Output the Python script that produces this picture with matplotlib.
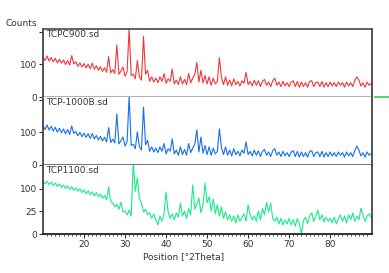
import numpy as np
import matplotlib
matplotlib.use("Agg")
import matplotlib.pyplot as plt
from matplotlib.lines import Line2D

# 2Theta grid, 0.5 deg steps from 10 to 90
two_theta = np.arange(10.0, 90.01, 0.5)

tcpc900 = [
    124, 112, 126, 110, 121, 108, 119, 105, 116, 104,
    114, 100, 112, 98, 127, 102, 108, 94, 105, 92,
    103, 89, 101, 87, 104, 85, 96, 82, 93, 79,
    90, 76, 124, 74, 84, 72, 160, 70, 80, 92,
    64, 78, 210, 66, 70, 56, 112, 62, 52, 186,
    70, 82, 48, 62, 46, 58, 44, 62, 48, 72,
    42, 56, 48, 86, 40, 52, 38, 62, 40, 54,
    38, 72, 44, 58, 70, 106, 46, 82, 44, 66,
    40, 62, 36, 58, 40, 48, 121, 60, 38, 62,
    36, 52, 34, 56, 38, 48, 34, 50, 42, 76,
    38, 48, 34, 52, 36, 50, 32, 48, 54, 36,
    46, 32, 50, 58, 36, 46, 32, 48, 34, 44,
    32, 46, 50, 32, 48, 30, 46, 32, 44, 30,
    48, 50, 32, 44, 46, 32, 48, 30, 44, 32,
    46, 34, 44, 32, 46, 36, 44, 30, 46, 34,
    44, 32, 50, 62, 52, 34, 44, 30, 46, 36,
    42,
]

tcp1000b = [
    121, 109, 123, 107, 119, 104, 116, 101, 113, 99,
    111, 96, 109, 94, 120, 97, 103, 90, 100, 87,
    98, 85, 96, 82, 97, 80, 91, 77, 88, 74,
    85, 71, 115, 69, 79, 68, 157, 65, 75, 86,
    58, 72, 212, 60, 64, 50, 102, 56, 46, 178,
    62, 76, 42, 56, 40, 52, 38, 56, 42, 66,
    34, 50, 42, 80, 34, 46, 30, 56, 32, 48,
    30, 66, 38, 52, 64, 108, 40, 86, 36, 60,
    32, 56, 30, 52, 34, 42, 111, 54, 32, 56,
    30, 46, 28, 50, 32, 42, 28, 46, 36, 71,
    32, 42, 28, 46, 30, 44, 26, 42, 48, 30,
    40, 26, 44, 50, 30, 40, 26, 42, 28, 38,
    26, 40, 44, 26, 42, 24, 40, 26, 38, 24,
    42, 44, 26, 38, 40, 26, 42, 24, 38, 26,
    40, 28, 38, 26, 40, 30, 38, 24, 40, 28,
    38, 26, 44, 58, 46, 28, 38, 24, 40, 30,
    36,
]

tcp1100 = [
    140, 124, 138, 120, 133, 116, 128, 112, 124, 106,
    118, 102, 115, 98, 110, 94, 106, 90, 101, 85,
    96, 80, 92, 76, 88, 72, 84, 68, 79, 63,
    74, 58, 109, 52, 48, 36, 44, 30, 50, 24,
    26, 18, 28, 16, 260, 90, 155, 62, 48, 24,
    30, 18, 22, 12, 20, 10, 4, 16, 8, 20,
    87, 24, 12, 20, 10, 22, 14, 47, 16, 26,
    12, 32, 18, 119, 30, 44, 64, 22, 42, 128,
    48, 68, 26, 60, 20, 42, 16, 36, 12, 24,
    10, 18, 8, 16, 6, 18, 8, 14, 20, 8,
    42, 18, 10, 16, 8, 26, 10, 32, 18, 50,
    24, 47, 12, 8, 14, 5, 12, 4, 10, 5,
    12, 4, 10, 3, 12, 5, 0, 9, 14, 5,
    16, 22, 8, 16, 28, 10, 18, 7, 14, 8,
    12, 6, 14, 5, 12, 18, 8, 16, 6, 18,
    10, 22, 8, 16, 10, 33, 18, 8, 16, 20,
    14,
]

names = ["TCPC900.sd", "TCP-1000B.sd", "TCP1100.sd"]
colors = ["#ee3838", "#1670e8", "#18ec88"]
series = [tcpc900, tcp1000b, tcp1100]

W, H = 389, 273
fig = plt.figure(figsize=(W / 100, H / 100), dpi=100)
plt.rcParams["font.family"] = "DejaVu Sans"

left, right = 43 / W, 372 / W
edges = [29, 97, 165, 234]
axes = []
for i in range(3):
    top, bot = edges[i], edges[i + 1]
    ax = fig.add_axes([left, 1 - bot / H, right - left, (bot - top) / H])
    axes.append(ax)
    ax.plot(two_theta, series[i], color=colors[i], lw=0.8)
    ax.set_xlim(10, 90.2)
    ax.text(0.008, 0.985, names[i], transform=ax.transAxes, va="top", ha="left",
            fontsize=6.5, color="#333333")
    ax.tick_params(axis="both", labelsize=6.5, length=3, width=0.8,
                   colors="#333333", pad=1.5)
    for s in ["left", "right"]:
        ax.spines[s].set_color("#444444")
        ax.spines[s].set_linewidth(1.3)
    ax.spines["top"].set_visible(i == 0)
    ax.spines["top"].set_color("#555555")
    ax.spines["top"].set_linewidth(1.3)

# linear panels
for ax in axes[:2]:
    ax.set_ylim(0, 209)
    ax.set_yticks([0, 100, 200])
    ax.set_yticklabels(["0", "100", ""])
    ax.set_xticks([])
axes[0].spines["bottom"].set_color("#b0b0b0")
axes[0].spines["bottom"].set_linewidth(1.5)
axes[1].spines["bottom"].set_color("#777777")
axes[1].spines["bottom"].set_linewidth(1.5)

# square-root intensity panel
ax3 = axes[2]
ax3.set_yscale("function", functions=(lambda v: np.sqrt(np.clip(v, 0, None)), np.square))
ax3.set_ylim(0, 235)
ax3.set_yticks([0, 25, 100])
ax3.set_yticklabels(["0", "25", "100"])
ax3.minorticks_off()
ax3.set_xticks([20, 30, 40, 50, 60, 70, 80])
ax3.set_xticks(np.arange(11, 90, 1), minor=True)
ax3.tick_params(axis="x", which="minor", length=1.5, width=0.6, colors="#333333")
ax3.spines["bottom"].set_color("#222222")
ax3.spines["bottom"].set_linewidth(1.3)

fig.text(5 / W, 1 - 23 / H, "Counts", fontsize=6.5, color="#333333", va="center")
fig.text(184 / W, 1 - 257 / H, "Position [°2Theta]", fontsize=6.5, color="#333333",
         ha="center", va="center")
fig.add_artist(Line2D([375 / W, 1.0], [1 - 97 / H, 1 - 97 / H], color="#33cc55", lw=1.2,
                      transform=fig.transFigure))

fig.savefig("out.png", dpi=100)
